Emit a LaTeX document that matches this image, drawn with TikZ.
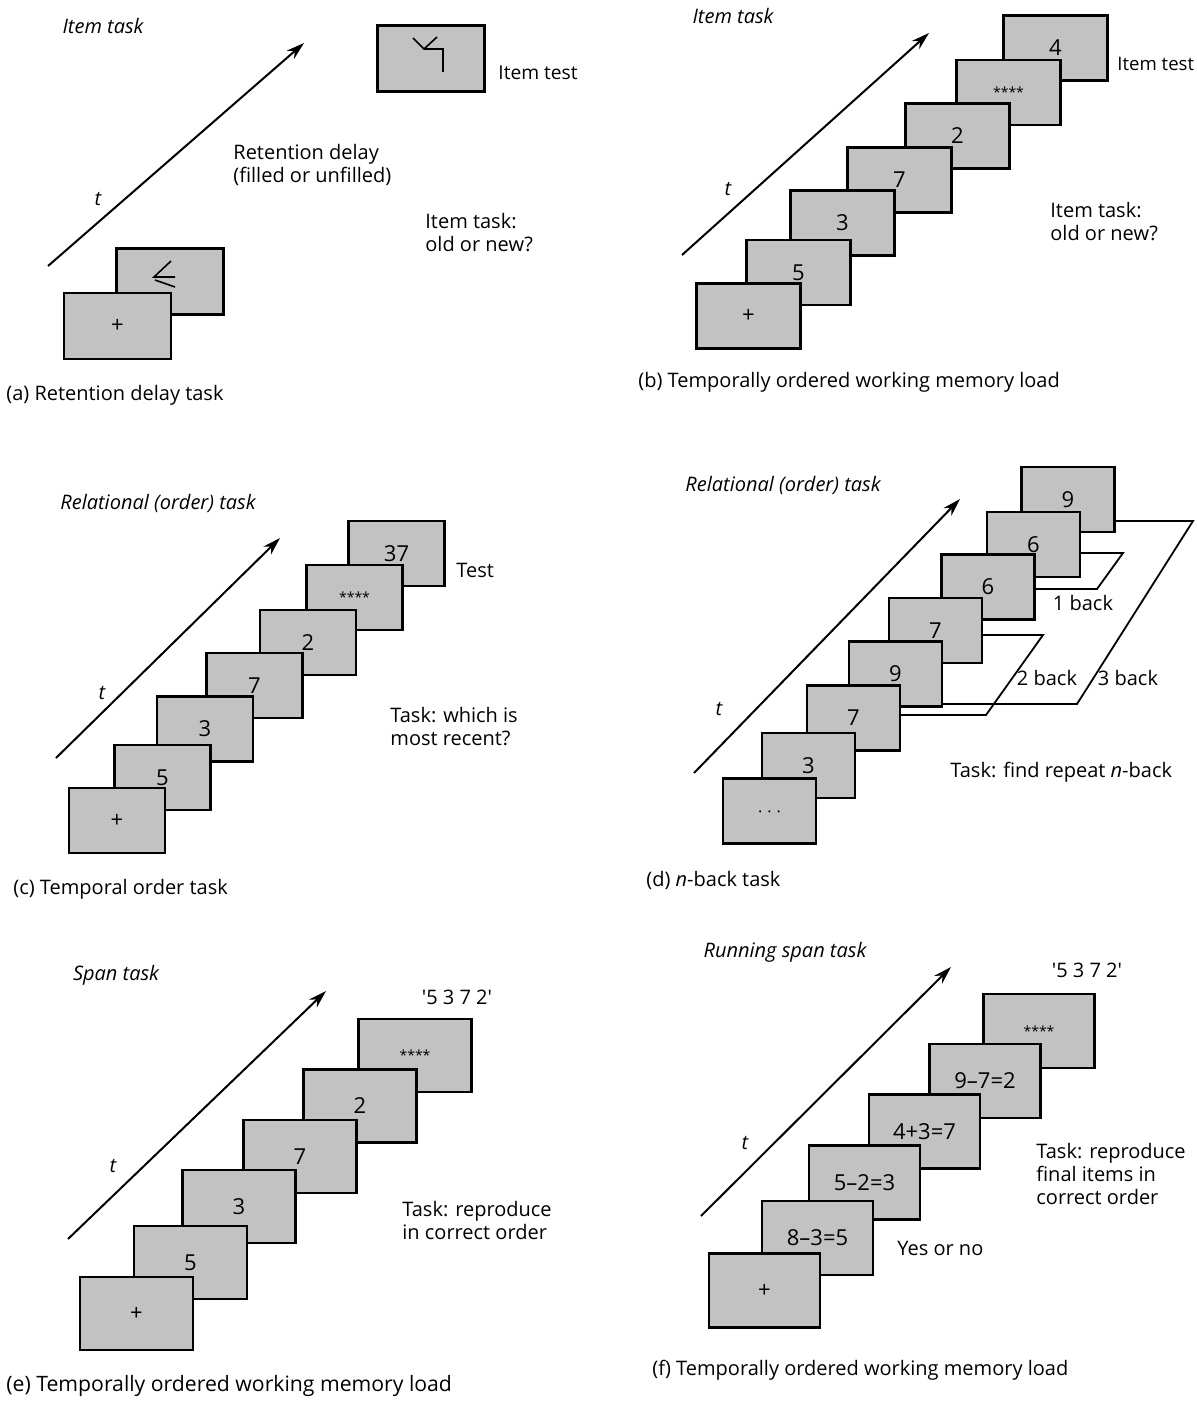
\documentclass[tikz,border=0pt]{standalone}
\usepackage{fontspec}
\setmainfont{Open Sans}
\usetikzlibrary{arrows.meta,calc}
\definecolor{boxgray}{gray}{0.76}
\begin{document}
\begin{tikzpicture}[x=0.5pt,y=-0.5pt,
  every node/.style={font=\fontsize{10}{11.5}\selectfont, inner sep=0pt},
  scr/.style={draw=black, line width=1.1pt, fill=boxgray, font=\fontsize{11}{13}\selectfont},
  scra/.style={scr, minimum width=53.5pt, minimum height=33pt},
  scrb/.style={scr, minimum width=52pt, minimum height=32.5pt},
  scrc/.style={scr, minimum width=48pt, minimum height=32.5pt},
  scrd/.style={scr, minimum width=46.5pt, minimum height=32.5pt},
  scre/.style={scr, minimum width=56.5pt, minimum height=36.5pt},
  scrf/.style={scr, minimum width=55.5pt, minimum height=37pt},
  tarrow/.style={line width=1pt, -{Stealth[length=9pt,width=5.5pt]}},
  nline/.style={line width=0.9pt, line join=miter},
  glyph/.style={line width=0.8pt},
  lbl/.style={anchor=west, align=left},
  ttl/.style={font=\fontsize{10}{12}\selectfont\itshape},
  tt/.style={font=\fontsize{10}{12}\selectfont\itshape}
]
\newcommand{\stars}{{\fontsize{7}{8}\selectfont ****}}
\useasboundingbox (0,0) rectangle (1197,1404);

% ---------------- (a) ----------------
\node[ttl] (aT) at (103,26) {Item task};
\node[tt] (at) at (98,199) {t};
\coordinate (aS) at (48,266); \coordinate (aE) at (304,43);
\draw[tarrow] (aS) -- (aE);
\node[scra] (a3) at (431,58.5) {};
\node[scra] (a2) at (170,281.5) {};
\node[scra] (a1) at (117.5,326) {+};
\draw[glyph] (413,38) -- (424,49) -- (437,37);
\draw[glyph] (424,49) -- (443,49) -- (443,72);
\draw[glyph] (171,261) -- (154,277) -- (175,277);
\draw[glyph] (155,280) -- (175,287);
\node[lbl, font=\fontsize{9.6}{11.5}\selectfont] (aIT) at (498,73) {Item test};
\node[lbl] (aRD) at (233,164.5) {Retention delay\\(filled or unfilled)};
\node[lbl] (aQ) at (425,233) {Item task:\\old or new?};
\node[lbl] (aC) at (6,395) {(a) Retention delay task};

% ---------------- (b) ----------------
\node[ttl] (bT) at (733,16) {Item task};
\node[tt] (bt) at (728,189) {t};
\coordinate (bS) at (682,255); \coordinate (bE) at (929,33);
\draw[tarrow] (bS) -- (bE);
\node[scrb] (b7) at (1055.5,48) {4};
\node[scrb] (b6) at (1008.5,92.5) {\stars};
\node[scrb] (b5) at (957.5,136) {2};
\node[scrb] (b4) at (899.5,180) {7};
\node[scrb] (b3) at (842.5,223) {3};
\node[scrb] (b2) at (798.5,272.5) {5};
\node[scrb] (b1) at (748.5,316) {+};
\node[lbl, font=\fontsize{9.3}{11.5}\selectfont] (bIT) at (1117,64) {Item test};
\node[lbl] (bQ) at (1050,222) {Item task:\\old or new?};
\node[lbl] (bC) at (638,382) {(b) Temporally ordered working memory load};

% ---------------- (c) ----------------
\node[ttl] (cT) at (158,503) {Relational (order) task};
\node[tt] (ct) at (102,693) {t};
\coordinate (cS) at (56,758); \coordinate (cE) at (280,538);
\draw[tarrow] (cS) -- (cE);
\node[scrc] (c7) at (396.5,553.5) {37};
\node[scrc] (c6) at (354.5,597.5) {\stars};
\node[scrc] (c5) at (308,642.5) {2};
\node[scrc] (c4) at (254.5,685.5) {7};
\node[scrc] (c3) at (205,729) {3};
\node[scrc] (c2) at (162.5,777.5) {5};
\node[scrc] (c1) at (117,820.5) {+};
\node[lbl] (cTe) at (456,570) {Test};
\node[lbl] (cQ) at (390,727) {Task: which is\\most recent?};
\node[lbl] (cC) at (13,889) {(c) Temporal order task};

% ---------------- (d) ----------------
\node[ttl] (dT) at (783,485) {Relational (order) task};
\node[tt] (dt) at (719,709) {t};
\coordinate (dS) at (694,773); \coordinate (dE) at (960,499);
\draw[tarrow] (dS) -- (dE);
\node[scrd] (d8) at (1068,499.5) {9};
\node[scrd] (d7) at (1033.5,544.5) {6};
\node[scrd] (d6) at (988,587) {6};
\node[scrd] (d5) at (935.5,630.5) {7};
\node[scrd] (d4) at (895.5,674) {9};
\node[scrd] (d3) at (853.5,718) {7};
\node[scrd] (d2) at (808.5,765.5) {3};
\node[scrd] (d1) at (769.5,811) {\raisebox{-6pt}{\fontsize{8}{9}\selectfont·\hspace{2.5pt}·\hspace{2.5pt}·}};
\draw[nline] ($(d7.east)+(0,8.5)$) -- (1123,553) -- (1097,589) -- ($(d6.east)+(0,2)$);
\draw[nline] ($(d5.east)+(0,4.5)$) -- (1043,635) -- (986,715) -- ($(d3.east)+(0,-3)$);
\draw[nline] ($(d8.east)+(0,21.5)$) -- (1193,521) -- (1077,704) -- ($(d4.east)+(0,30)$);
\node (d1b) at (1083,603) {1 back};
\node (d2b) at (1047,678) {2 back};
\node (d3b) at (1128,678) {3 back};
\node[lbl] (dQ) at (950,772) {Task: find repeat \textit{n}-back};
\node[lbl] (dC) at (646,880) {(d) \textit{n}-back task};

% ---------------- (e) ----------------
\node[ttl] (eT) at (116,975) {Span task};
\node[tt] (et) at (113,1166) {t};
\coordinate (eS) at (68,1239); \coordinate (eE) at (326,991);
\draw[tarrow] (eS) -- (eE);
\node (eR) at (457,997) {\textquotesingle5 3 7 2\textquotesingle};
\node[scre] (e6) at (415,1055.5) {\stars};
\node[scre] (e5) at (360,1106) {2};
\node[scre] (e4) at (300,1156.5) {7};
\node[scre] (e3) at (239,1206.5) {3};
\node[scre] (e2) at (190.5,1262.5) {5};
\node[scre] (e1) at (136.5,1313.5) {+};
\node[lbl] (eQ) at (402,1220) {Task: reproduce\\in correct order};
\node[lbl, font=\fontsize{10.6}{12}\selectfont] (eC) at (6,1386) {(e) Temporally ordered working memory load};

% ---------------- (f) ----------------
\node[ttl] (fT) at (785,952) {Running span task};
\node[tt] (ft) at (745,1143) {t};
\coordinate (fS) at (701,1216); \coordinate (fE) at (951,967);
\draw[tarrow] (fS) -- (fE);
\node (fR) at (1087,970) {\textquotesingle5 3 7 2\textquotesingle};
\node[scrf] (f6) at (1039,1031) {\stars};
\node[scrf] (f5) at (985,1081) {9–7=2};
\node[scrf] (f4) at (924.5,1131.5) {4+3=7};
\node[scrf] (f3) at (864.5,1182.5) {5–2=3};
\node[scrf] (f2) at (817.5,1238) {8–3=5};
\node[scrf] (f1) at (764.5,1290.5) {+};
\node[lbl] (fQ) at (1036,1174) {Task: reproduce\\final items in\\correct order};
\node[lbl] (fY) at (897,1248) {Yes or no};
\node[lbl] (fC) at (652,1370) {(f) Temporally ordered working memory load};
\end{tikzpicture}
\end{document}
